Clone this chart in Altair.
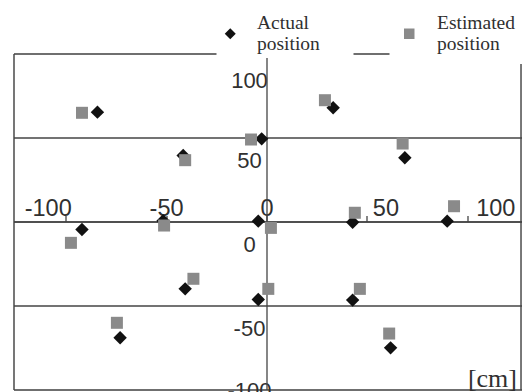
import altair as alt
import pandas as pd

# Actual positions [cm]
actual_x = [-84.2, -41.5, 33.2, -2.4, 68.9, -91.9, -51.5, -4.1, 42.9, 90.0, -40.5, -4.1, -72.9, 42.9, 61.8]
actual_y = [65.1, 39.3, 67.7, 49.2, 37.9, -4.8, 0.5, 0.2, -0.4, 0.2, -40.1, -46.4, -69.2, -46.8, -75.2]
# Estimated positions [cm]
est_x = [-91.9, -40.5, 29.1, -7.7, 67.8, -97.4, -51.0, 2.2, 44.0, 93.4, -36.4, 0.9, -74.5, 46.5, 61.1]
est_y = [64.7, 36.5, 72.2, 48.8, 46.4, -12.7, -2.4, -3.8, 5.2, 9.1, -34.1, -40.1, -60.3, -40.1, -66.7]

tick_values = [-100, -50, 0, 50, 100]
x_limits = [-126, 127]
y_limits = [-100, 100]
frame_values = [-126, 126.6]
series_names = ["Actual position", "Estimated position"]
unit_label = "[cm]"

df_act = pd.DataFrame({"x": actual_x, "y": actual_y, "kind": series_names[0]})
df_est = pd.DataFrame({"x": est_x, "y": est_y, "kind": series_names[1]})

LINE = "#444444"
TXT = "#303030"

x_label_offset = {
    "condition": [
        {"test": "datum.value == -100", "value": -18},
        {"test": "datum.value == 50", "value": 18.5},
        {"test": "datum.value == 100", "value": 28},
    ],
    "value": 0,
}
y_label_offset = {
    "condition": [
        {"test": "datum.value == 100", "value": 27},
        {"test": "datum.value == -100", "value": 0.5},
    ],
    "value": 22.5,
}
edge_test = "abs(datum.value) > 110"

x_axis = alt.Axis(
    orient="top", offset=-168, values=[frame_values[0]] + tick_values + [frame_values[1]],
    grid=True, gridColor=LINE, gridWidth=1.4,
    gridOpacity={"condition": {"test": edge_test, "value": 1}, "value": 0},
    tickSize=6, tickColor=LINE, tickWidth=1.3,
    tickOpacity={"condition": {"test": edge_test, "value": 0}, "value": 1},
    domainColor=LINE, domainWidth=1.3,
    labelExpr="abs(datum.value) > 110 ? '' : toString(datum.value)",
    labelFont="Liberation Sans", labelFontSize=23.5, labelColor=TXT,
    labelBaseline="alphabetic", labelPadding=0, labelAlign="center",
    labelOffset=x_label_offset,
    labelFlush=False, labelOverlap=False, labelBound=False,
    title=unit_label, titleX=503, titleY=165, titleAlign="right",
    titleBaseline="alphabetic", titleFont="Liberation Serif", titleFontSize=26,
    titleFontWeight="normal", titleColor=TXT, titleAngle=0,
)
y_axis = alt.Axis(
    orient="left", offset=-253, values=tick_values, grid=True,
    gridColor=LINE, gridWidth=1.3, gridOpacity=1, ticks=False,
    domainColor=LINE, domainWidth=1.3,
    labelExpr="toString(datum.value)",
    labelFont="Liberation Sans", labelFontSize=22, labelColor=TXT,
    labelPadding=17.5, labelAlign="center", labelBaseline="middle",
    labelOffset=y_label_offset,
    labelFlush=False, labelOverlap=False, labelBound=False, title=None,
)
xs = alt.Scale(domain=x_limits, nice=False, zero=False)
ys = alt.Scale(domain=y_limits, nice=False, zero=False)

leg_common = dict(
    orient="none", fillColor="white",
    labelExpr="split(datum.label, ' ')",
    labelFont="Liberation Serif", labelFontSize=19.5, labelColor=TXT,
    labelBaseline="line-bottom", symbolStrokeWidth=0,
)

leg1 = alt.Legend(
    title=" ", titleOrient="right", titlePadding=30,
    legendX=203, legendY=-33.5, padding=4, labelOffset=17,
    symbolSize=121, symbolType="diamond", symbolFillColor="#111111",
    **leg_common,
)
leg2 = alt.Legend(
    title=None, legendX=376, legendY=-39.5, padding=10, labelOffset=18,
    symbolSize=110, symbolType="square", symbolFillColor="#8a8a8a",
    **leg_common,
)

diamonds = alt.Chart(df_act).mark_point(
    filled=True, size=180, color="#111111", opacity=1, strokeWidth=0
).encode(
    x=alt.X("x:Q", scale=xs, axis=x_axis),
    y=alt.Y("y:Q", scale=ys, axis=y_axis),
    shape=alt.Shape("kind:N", scale=alt.Scale(domain=[series_names[0]], range=["diamond"]), legend=leg1),
)
squares = alt.Chart(df_est).mark_point(
    filled=True, size=144, color="#8a8a8a", opacity=1, strokeWidth=0
).encode(
    x=alt.X("x:Q", scale=xs, axis=x_axis),
    y=alt.Y("y:Q", scale=ys, axis=y_axis),
    shape=alt.Shape("kind:N", scale=alt.Scale(domain=[series_names[1]], range=["square"]), legend=leg2),
)

chart = alt.layer(diamonds, squares).resolve_scale(shape="independent").resolve_legend(shape="independent").properties(
    width=508, height=336,
    autosize=alt.AutoSizeParams(type="none"),
    padding={"left": 5.5, "top": 45.5, "right": 0.5, "bottom": 2.5},
).configure_view(stroke=LINE, strokeWidth=1.3).configure(background="white")

chart.save("out.html", embed_options={"renderer": "svg", "actions": False})
